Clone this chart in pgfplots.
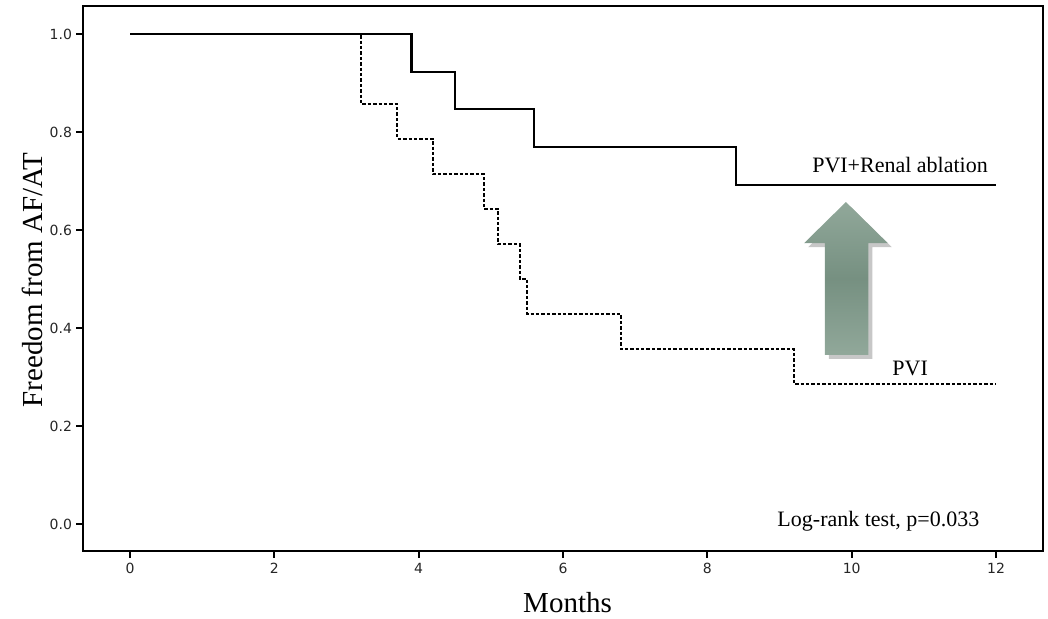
\documentclass[border=0pt]{standalone}
\usepackage{pgfplots}
\pgfplotsset{compat=1.18}
\usepackage{fontspec}
\setmainfont{Liberation Serif}
\newfontfamily\tickfont{DejaVu Sans}
\definecolor{arrowgreen}{RGB}{118,144,129}
\definecolor{arrowlight}{RGB}{145,168,154}
\begin{document}
\begin{tikzpicture}
\begin{axis}[
  scale only axis,
  width=480pt, height=272.5pt,
  xmin=-0.651, xmax=12.651,
  ymin=-0.055, ymax=1.057,
  axis line style={line width=1pt},
  xtick={0,2,4,6,8,10,12},
  ytick={0,0.2,0.4,0.6,0.8,1.0},
  tick align=outside,
  xtick pos=bottom, ytick pos=left,
  major tick length=3.5pt,
  tick style={line width=0.9pt, black},
  /pgf/number format/assume math mode=true,
  ticklabel style={font=\tickfont\fontsize{7}{8}\selectfont, text=black!85},
  yticklabel style={/pgf/number format/fixed, /pgf/number format/precision=1, /pgf/number format/fixed zerofill, xshift=1.5pt},
  xticklabel style={yshift=1pt},
  clip=false,
]
% invisible bounding rectangle
\path (rel axis cs:-0.0865,-0.1229) rectangle (rel axis cs:1.0052,1.011);

% PVI + Renal ablation
\addplot[black, line width=1.1pt, const plot, mark=none] coordinates {
(0,1.0) (3.9,0.923) (4.5,0.846) (5.6,0.769) (8.4,0.692) (12,0.692)
};
% PVI
\addplot[black, line width=1.1pt, const plot, mark=none, dash pattern=on 1.7pt off 1pt] coordinates {
(0,1.0) (3.2,0.857) (3.7,0.786) (4.2,0.714) (4.9,0.643) (5.1,0.571) (5.4,0.5) (5.5,0.429) (6.8,0.357) (9.2,0.286) (12,0.286)
};

% arrow shadow
\fill[black, opacity=0.22] ([xshift=2pt,yshift=-2pt]axis cs:9.63,0.345) -- ([xshift=2pt,yshift=-2pt]axis cs:10.23,0.345) -- ([xshift=2pt,yshift=-2pt]axis cs:10.23,0.573) -- ([xshift=2pt,yshift=-2pt]axis cs:10.50,0.573) -- ([xshift=2pt,yshift=-2pt]axis cs:9.92,0.657) -- ([xshift=2pt,yshift=-2pt]axis cs:9.34,0.573) -- ([xshift=2pt,yshift=-2pt]axis cs:9.63,0.573) -- cycle;
% arrow
\shade[top color=arrowlight, bottom color=arrowlight, middle color=arrowgreen] (axis cs:9.63,0.345) -- (axis cs:10.23,0.345) -- (axis cs:10.23,0.573) -- (axis cs:10.50,0.573) -- (axis cs:9.92,0.657) -- (axis cs:9.34,0.573) -- (axis cs:9.63,0.573) -- cycle;

\node[anchor=base, font=\fontsize{11}{13}\selectfont] at (axis cs:10.67,0.718) {PVI+Renal ablation};
\node[anchor=base, font=\fontsize{11}{13}\selectfont] at (axis cs:10.81,0.304) {PVI};
\node[anchor=base, font=\fontsize{11}{13}\selectfont] at (axis cs:10.37,-0.006) {Log-rank test, p=0.033};

\node[anchor=base, font=\fontsize{14.5}{17}\selectfont] at (rel axis cs:0.5047,-0.112) {Months};
\node[rotate=90, font=\fontsize{14.5}{17}\selectfont] at (rel axis cs:-0.053,0.497) {Freedom from AF/AT};
\end{axis}
\end{tikzpicture}
\end{document}
